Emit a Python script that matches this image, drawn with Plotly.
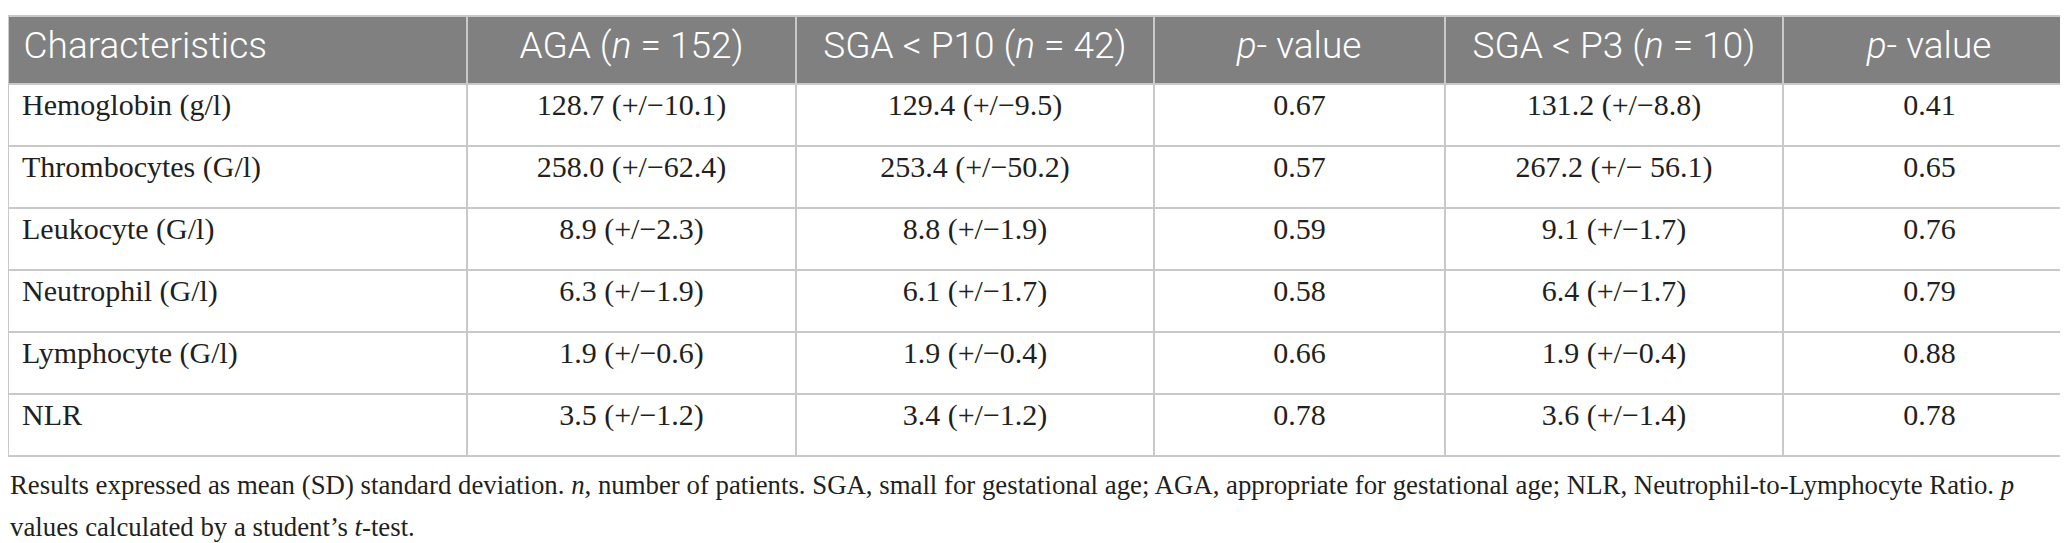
import plotly.graph_objects as go

W, H = 2068, 543

headers = [
    "Characteristics",
    "AGA (<i>n</i> = 152)",
    "SGA &lt; P10 (<i>n</i> = 42)",
    "<i>p</i>- value",
    "SGA &lt; P3 (<i>n</i> = 10)",
    "<i>p</i>- value",
]

characteristics = [
    "Hemoglobin (g/l)",
    "Thrombocytes (G/l)",
    "Leukocyte (G/l)",
    "Neutrophil (G/l)",
    "Lymphocyte (G/l)",
    "NLR",
]
aga = ["128.7 (+/−10.1)", "258.0 (+/−62.4)", "8.9 (+/−2.3)", "6.3 (+/−1.9)", "1.9 (+/−0.6)", "3.5 (+/−1.2)"]
sga_p10 = ["129.4 (+/−9.5)", "253.4 (+/−50.2)", "8.8 (+/−1.9)", "6.1 (+/−1.7)", "1.9 (+/−0.4)", "3.4 (+/−1.2)"]
p_p10 = ["0.67", "0.57", "0.59", "0.58", "0.66", "0.78"]
sga_p3 = ["131.2 (+/−8.8)", "267.2 (+/− 56.1)", "9.1 (+/−1.7)", "6.4 (+/−1.7)", "1.9 (+/−0.4)", "3.6 (+/−1.4)"]
p_p3 = ["0.41", "0.65", "0.76", "0.79", "0.88", "0.78"]

footnote_lines = [
    "Results expressed as mean (SD) standard deviation. <i>n</i>, number of patients. SGA, small for gestational age; "
    "AGA, appropriate for gestational age; NLR, Neutrophil-to-Lymphocyte Ratio. <i>p</i>",
    "values calculated by a student’s <i>t</i>-test.",
]

# layout constants (pixels)
col_widths = [459, 329, 358, 291, 338, 293]
top = 8
header_h = 68
row_h = 62
grid = "#c9c9c9"
ink = "#231f20"
pad = "\u2009"  # small extra left indent for the first column

# wrap every header label in a span so they all go through the same
# (markup) text path and sit on one baseline
header_vals = ["<span>%s</span>" % h for h in [pad + headers[0]] + headers[1:]]
first_col = [pad + c for c in characteristics]

fig = go.Figure(go.Table(
    columnwidth=col_widths,
    header=dict(
        values=header_vals,
        fill_color="#808080",
        line=dict(color=grid, width=2),
        align=["left"] + ["center"] * 5,
        font=dict(family="Roboto", size=37, color="white", weight=300),
        height=header_h,
    ),
    cells=dict(
        values=[first_col, aga, sga_p10, p_p10, sga_p3, p_p3],
        fill_color="white",
        line=dict(color=grid, width=2),
        align=["left"] + ["center"] * 5,
        font=dict(family="Liberation Serif", size=30, color=ink),
        height=row_h,
    ),
    domain=dict(x=[0, 1], y=[0, 1]),
))

table_bottom = top + header_h + row_h * len(characteristics)
for i, line in enumerate(footnote_lines):
    ypx = table_bottom + 29 + i * 42
    fig.add_annotation(
        text=line, xref="paper", yref="paper",
        x=0, y=1 - (ypx - top) / (H - top),
        xanchor="left", yanchor="middle", showarrow=False,
        font=dict(family="Liberation Serif", size=26.8, color=ink),
    )

fig.update_layout(
    width=W, height=H,
    margin=dict(l=0, r=0, t=top, b=0),
    paper_bgcolor="white",
)

fig.write_html("out.html")
